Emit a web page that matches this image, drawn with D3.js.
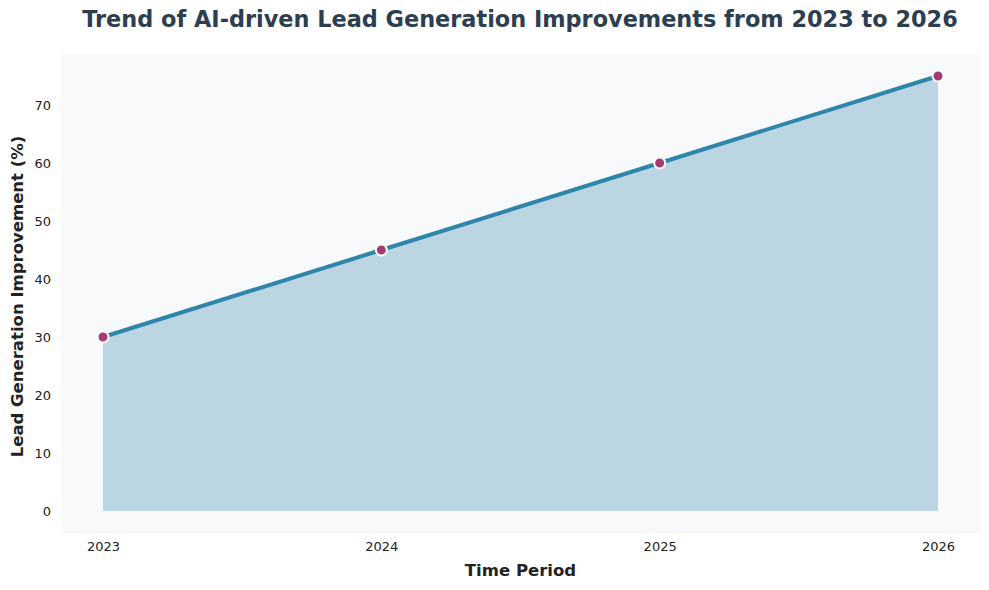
<!DOCTYPE html>
<html>
<head>
<meta charset="utf-8">
<script src="https://cdn.jsdelivr.net/npm/d3@7"></script>
<style>
  body { margin: 0; background: #fff; }
  text { font-family: "DejaVu Sans", sans-serif; }
</style>
</head>
<body>
<svg id="chart" width="989" height="590"></svg>
<script>
// Data
var years = ["2023", "2024", "2025", "2026"];
var improvement = [30, 45, 60, 75];
var yTicks = [0, 10, 20, 30, 40, 50, 60, 70];

var svg = d3.select("#chart");
var box = { left: 61, right: 980, top: 54, bottom: 533 };

var x = d3.scalePoint()
    .domain(years)
    .range([103, 938]);

var y = d3.scaleLinear()
    .domain([0, 70])
    .range([511, 105]);

var data = years.map(function(d, i) {
    return { year: d, value: improvement[i] };
});

// Plot background
svg.append("rect")
    .attr("x", box.left)
    .attr("y", box.top)
    .attr("width", box.right - box.left)
    .attr("height", box.bottom - box.top)
    .attr("fill", "#f8f9fa");

// Filled area under the line
var area = d3.area()
    .x(function(d) { return x(d.year); })
    .y0(y(0))
    .y1(function(d) { return y(d.value); });

svg.append("path")
    .datum(data)
    .attr("d", area)
    .attr("fill", "#2e86ab")
    .attr("fill-opacity", 0.3);

// Line
var line = d3.line()
    .x(function(d) { return x(d.year); })
    .y(function(d) { return y(d.value); });

svg.append("path")
    .datum(data)
    .attr("d", line)
    .attr("fill", "none")
    .attr("stroke", "#2e86ab")
    .attr("stroke-width", 4);

// Markers
svg.selectAll(".dot")
    .data(data)
    .enter()
    .append("circle")
    .attr("class", "dot")
    .attr("cx", function(d) { return x(d.year); })
    .attr("cy", function(d) { return y(d.value); })
    .attr("r", 5.5)
    .attr("fill", "#a23b72")
    .attr("stroke", "#fff")
    .attr("stroke-width", 2);

// Axes (no tick lines, no domain)
var yAxis = svg.append("g")
    .attr("transform", "translate(" + box.left + ",0)")
    .call(d3.axisLeft(y).tickValues(yTicks).tickSize(0).tickPadding(10));

var xAxis = svg.append("g")
    .attr("transform", "translate(0," + box.bottom + ")")
    .call(d3.axisBottom(x).tickSize(0).tickPadding(9));

[yAxis, xAxis].forEach(function(a) {
    a.select(".domain").remove();
    a.attr("font-size", null).attr("font-family", null);
    a.selectAll("text")
        .style("font-family", "DejaVu Sans, sans-serif")
        .style("font-size", "13px")
        .attr("fill", "#222");
});

// Axis titles
svg.append("text")
    .attr("x", (box.left + box.right) / 2)
    .attr("y", 576)
    .attr("text-anchor", "middle")
    .style("font-size", "16.5px")
    .style("font-weight", "bold")
    .attr("fill", "#222")
    .text("Time Period");

svg.append("text")
    .attr("transform", "translate(23," + ((box.top + box.bottom) / 2 + 3) + ") rotate(-90)")
    .attr("text-anchor", "middle")
    .style("font-size", "16.5px")
    .style("font-weight", "bold")
    .attr("fill", "#222")
    .text("Lead Generation Improvement (%)");

// Title
svg.append("text")
    .attr("x", 520)
    .attr("y", 27)
    .attr("text-anchor", "middle")
    .style("font-size", "22.4px")
    .style("font-weight", "bold")
    .attr("fill", "#2c3e50")
    .text("Trend of AI-driven Lead Generation Improvements from 2023 to 2026");
</script>
</body>
</html>
